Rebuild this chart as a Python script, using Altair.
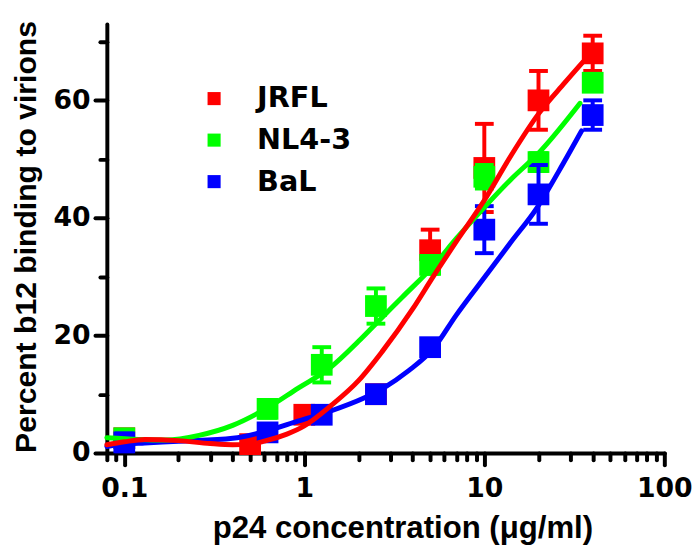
import altair as alt
import pandas as pd

# ---------------- data ----------------
series_names = ["JRFL", "NL4-3", "BaL"]
series_colors = ["#FF0000", "#00FF00", "#0000FF"]

# measured points (mean +/- error)
jrfl_conc = [0.1, 0.5, 1.0, 2.5, 5, 10, 20, 40]
jrfl_mean = [2.5, 1.5, 6.5, 10.0, 34.5, 48.5, 60.0, 68.0]
jrfl_err = [0.5, 1.0, 1.0, 1.0, 3.5, 7.5, 5.0, 3.0]

nl43_conc = [0.1, 0.625, 1.25, 2.5, 5, 10, 20, 40]
nl43_mean = [2.5, 7.5, 15.0, 25.0, 32.0, 47.0, 49.5, 63.0]
nl43_err = [0.5, 1.5, 3.0, 3.0, 1.5, 2.0, 1.5, 1.0]

bal_conc = [0.1, 0.625, 1.25, 2.5, 5, 10, 20, 40]
bal_mean = [1.8, 3.5, 6.5, 10.0, 18.0, 38.0, 44.0, 57.5]
bal_err = [1.5, 1.0, 1.0, 1.0, 1.0, 4.0, 5.0, 2.5]

# fitted curves
jrfl_curve_x = [0.08, 0.1, 0.13, 0.2, 0.3, 0.4, 0.5, 0.6, 0.8, 1.0, 1.4, 2.0, 2.7, 4.0, 5.2, 7.0, 10, 14, 20, 28, 35.5]
jrfl_curve_y = [1.4, 1.9, 2.3, 2.1, 1.6, 1.4, 1.5, 2.0, 3.2, 4.6, 8.0, 12.3, 17.2, 24.5, 30.0, 36.0, 43.0, 50.5, 57.7, 63.0, 66.6]

nl43_curve_x = [0.08, 0.12, 0.17, 0.26, 0.4, 0.61, 0.92, 1.39, 2.0, 2.5, 3.5, 5.2, 7.0, 10, 14, 20, 34]
nl43_curve_y = [2.6, 2.3, 2.2, 3.0, 4.7, 7.5, 11.0, 14.5, 19.0, 22.0, 26.5, 31.8, 36.5, 41.8, 46.5, 51.0, 59.5]

bal_curve_x = [0.08, 0.1, 0.13, 0.2, 0.4, 0.61, 0.92, 1.39, 2.13, 2.74, 3.8, 5.19, 7.0, 10.5, 14, 19.7, 26, 34.7]
bal_curve_y = [1.1, 1.5, 1.7, 2.0, 2.5, 3.7, 5.4, 7.1, 9.3, 11.0, 14.0, 17.7, 23.5, 30.7, 35.8, 41.8, 48.0, 54.8]

# axis ticks
x_major = [0.1, 1, 10, 100]
x_minor = [0.08, 0.09, 0.2, 0.3, 0.4, 0.5, 0.6, 0.7, 0.8, 0.9,
           2, 3, 4, 5, 6, 7, 8, 9, 20, 30, 40, 50, 60, 70, 80, 90]
y_ticks = [0, 10, 20, 30, 40, 50, 60, 70]

# ---------------- tables ----------------
point_tables = {
    "JRFL": pd.DataFrame({"conc": jrfl_conc, "mean": jrfl_mean, "err": jrfl_err, "series": "JRFL"}),
    "NL4-3": pd.DataFrame({"conc": nl43_conc, "mean": nl43_mean, "err": nl43_err, "series": "NL4-3"}),
    "BaL": pd.DataFrame({"conc": bal_conc, "mean": bal_mean, "err": bal_err, "series": "BaL"}),
}
for df in point_tables.values():
    df["lo"] = df["mean"] - df["err"]
    df["hi"] = df["mean"] + df["err"]

curves = {
    "JRFL": pd.DataFrame({"x": jrfl_curve_x, "y": jrfl_curve_y, "series": "JRFL"}),
    "NL4-3": pd.DataFrame({"x": nl43_curve_x, "y": nl43_curve_y, "series": "NL4-3"}),
    "BaL": pd.DataFrame({"x": bal_curve_x, "y": bal_curve_y, "series": "BaL"}),
}
color_of = dict(zip(series_names, series_colors))

TITLE_FONT = "Liberation Sans"
LABEL_FONT = "DejaVu Sans"

x_scale = alt.Scale(type="log", domain=[0.08, 100], nice=False)
y_scale = alt.Scale(domain=[0, 73], nice=False, zero=False)
color_scale = alt.Scale(domain=series_names, range=series_colors)

major_test = "datum.value == 0.1 || datum.value == 1 || datum.value == 10 || datum.value == 100"
x_axis = alt.Axis(
    values=sorted(x_major + x_minor),
    labelExpr="datum.value == 0.1 ? '0.1' : (" + major_test + ") ? format(datum.value, 'd') : ''",
    tickSize={"condition": {"test": major_test, "value": 12}, "value": 7},
    title="p24 concentration (\u03bcg/ml)",
    titleX=299, titleY=86, titleAlign="center", titleBaseline="alphabetic",
    labelPadding=11, labelFlush=False, labelOverlap=False,
    labelFont=LABEL_FONT, labelFontWeight="bold", labelFontSize=27, labelColor="black",
    titleFont=TITLE_FONT, titleFontWeight="bold", titleFontSize=31.5, titleColor="black",
    grid=False, domainColor="black", domainWidth=4, domainCap="round",
    tickColor="black", tickWidth=4, tickCap="round",
)
y_axis = alt.Axis(
    values=y_ticks,
    labelExpr="datum.value % 20 == 0 ? datum.label : ''",
    tickSize={"condition": {"test": "datum.value % 20 == 0", "value": 12}, "value": 7},
    title="Percent b12 binding to virions",
    titleX=-72, titleY=215, titleAlign="center", titleBaseline="alphabetic", titleAngle=-90,
    labelPadding=5, labelOverlap=False,
    labelFont=LABEL_FONT, labelFontWeight="bold", labelFontSize=27, labelColor="black",
    titleFont=TITLE_FONT, titleFontWeight="bold", titleFontSize=30.5, titleColor="black",
    grid=False, domainColor="black", domainWidth=4, domainCap="round",
    tickColor="black", tickWidth=4, tickCap="round",
)

legend = alt.Legend(
    orient="none", legendX=94, legendY=61, title=None,
    symbolType="square", symbolSize=175, symbolOpacity=1, symbolStrokeWidth=0,
    labelFont=LABEL_FONT, labelFontWeight="bold", labelFontSize=29, labelColor="black",
    labelOffset=29, rowPadding=12, padding=0, labelLimit=300,
)


def X(field):
    return alt.X(field, type="quantitative", scale=x_scale, axis=x_axis)


def Y(field):
    return alt.Y(field, type="quantitative", scale=y_scale, axis=y_axis)


layers = []
for name in series_names:
    sub = point_tables[name]
    c = color_of[name]
    rule = alt.Chart(sub).mark_rule(strokeWidth=4, color=c).encode(
        x=X("conc"), y=Y("lo"), y2="hi")
    cap_hi = alt.Chart(sub).mark_tick(orient="horizontal", size=19, thickness=4, opacity=1, color=c).encode(
        x=X("conc"), y=Y("hi"))
    cap_lo = alt.Chart(sub).mark_tick(orient="horizontal", size=19, thickness=4, opacity=1, color=c).encode(
        x=X("conc"), y=Y("lo"))
    pt = alt.Chart(sub).mark_point(shape="square", filled=True, size=484, opacity=1).encode(
        x=X("conc"), y=Y("mean"),
        color=alt.Color("series:N", scale=color_scale, legend=legend),
    )
    layers += [rule, cap_hi, cap_lo, pt]

for name in ["BaL", "NL4-3", "JRFL"]:
    ln = alt.Chart(curves[name]).mark_line(
        strokeWidth=5, interpolate="monotone", strokeCap="round", color=color_of[name]
    ).encode(x=X("x"), y=Y("y"))
    layers.append(ln)

chart = alt.layer(*layers).properties(
    width=564, height=434,
    autosize=alt.AutoSizeParams(type="none"),
    padding={"left": 100, "top": 13, "right": 28, "bottom": 93},
).configure_view(stroke=None)

chart.save("out.html", embed_options={"renderer": "svg", "actions": False})
